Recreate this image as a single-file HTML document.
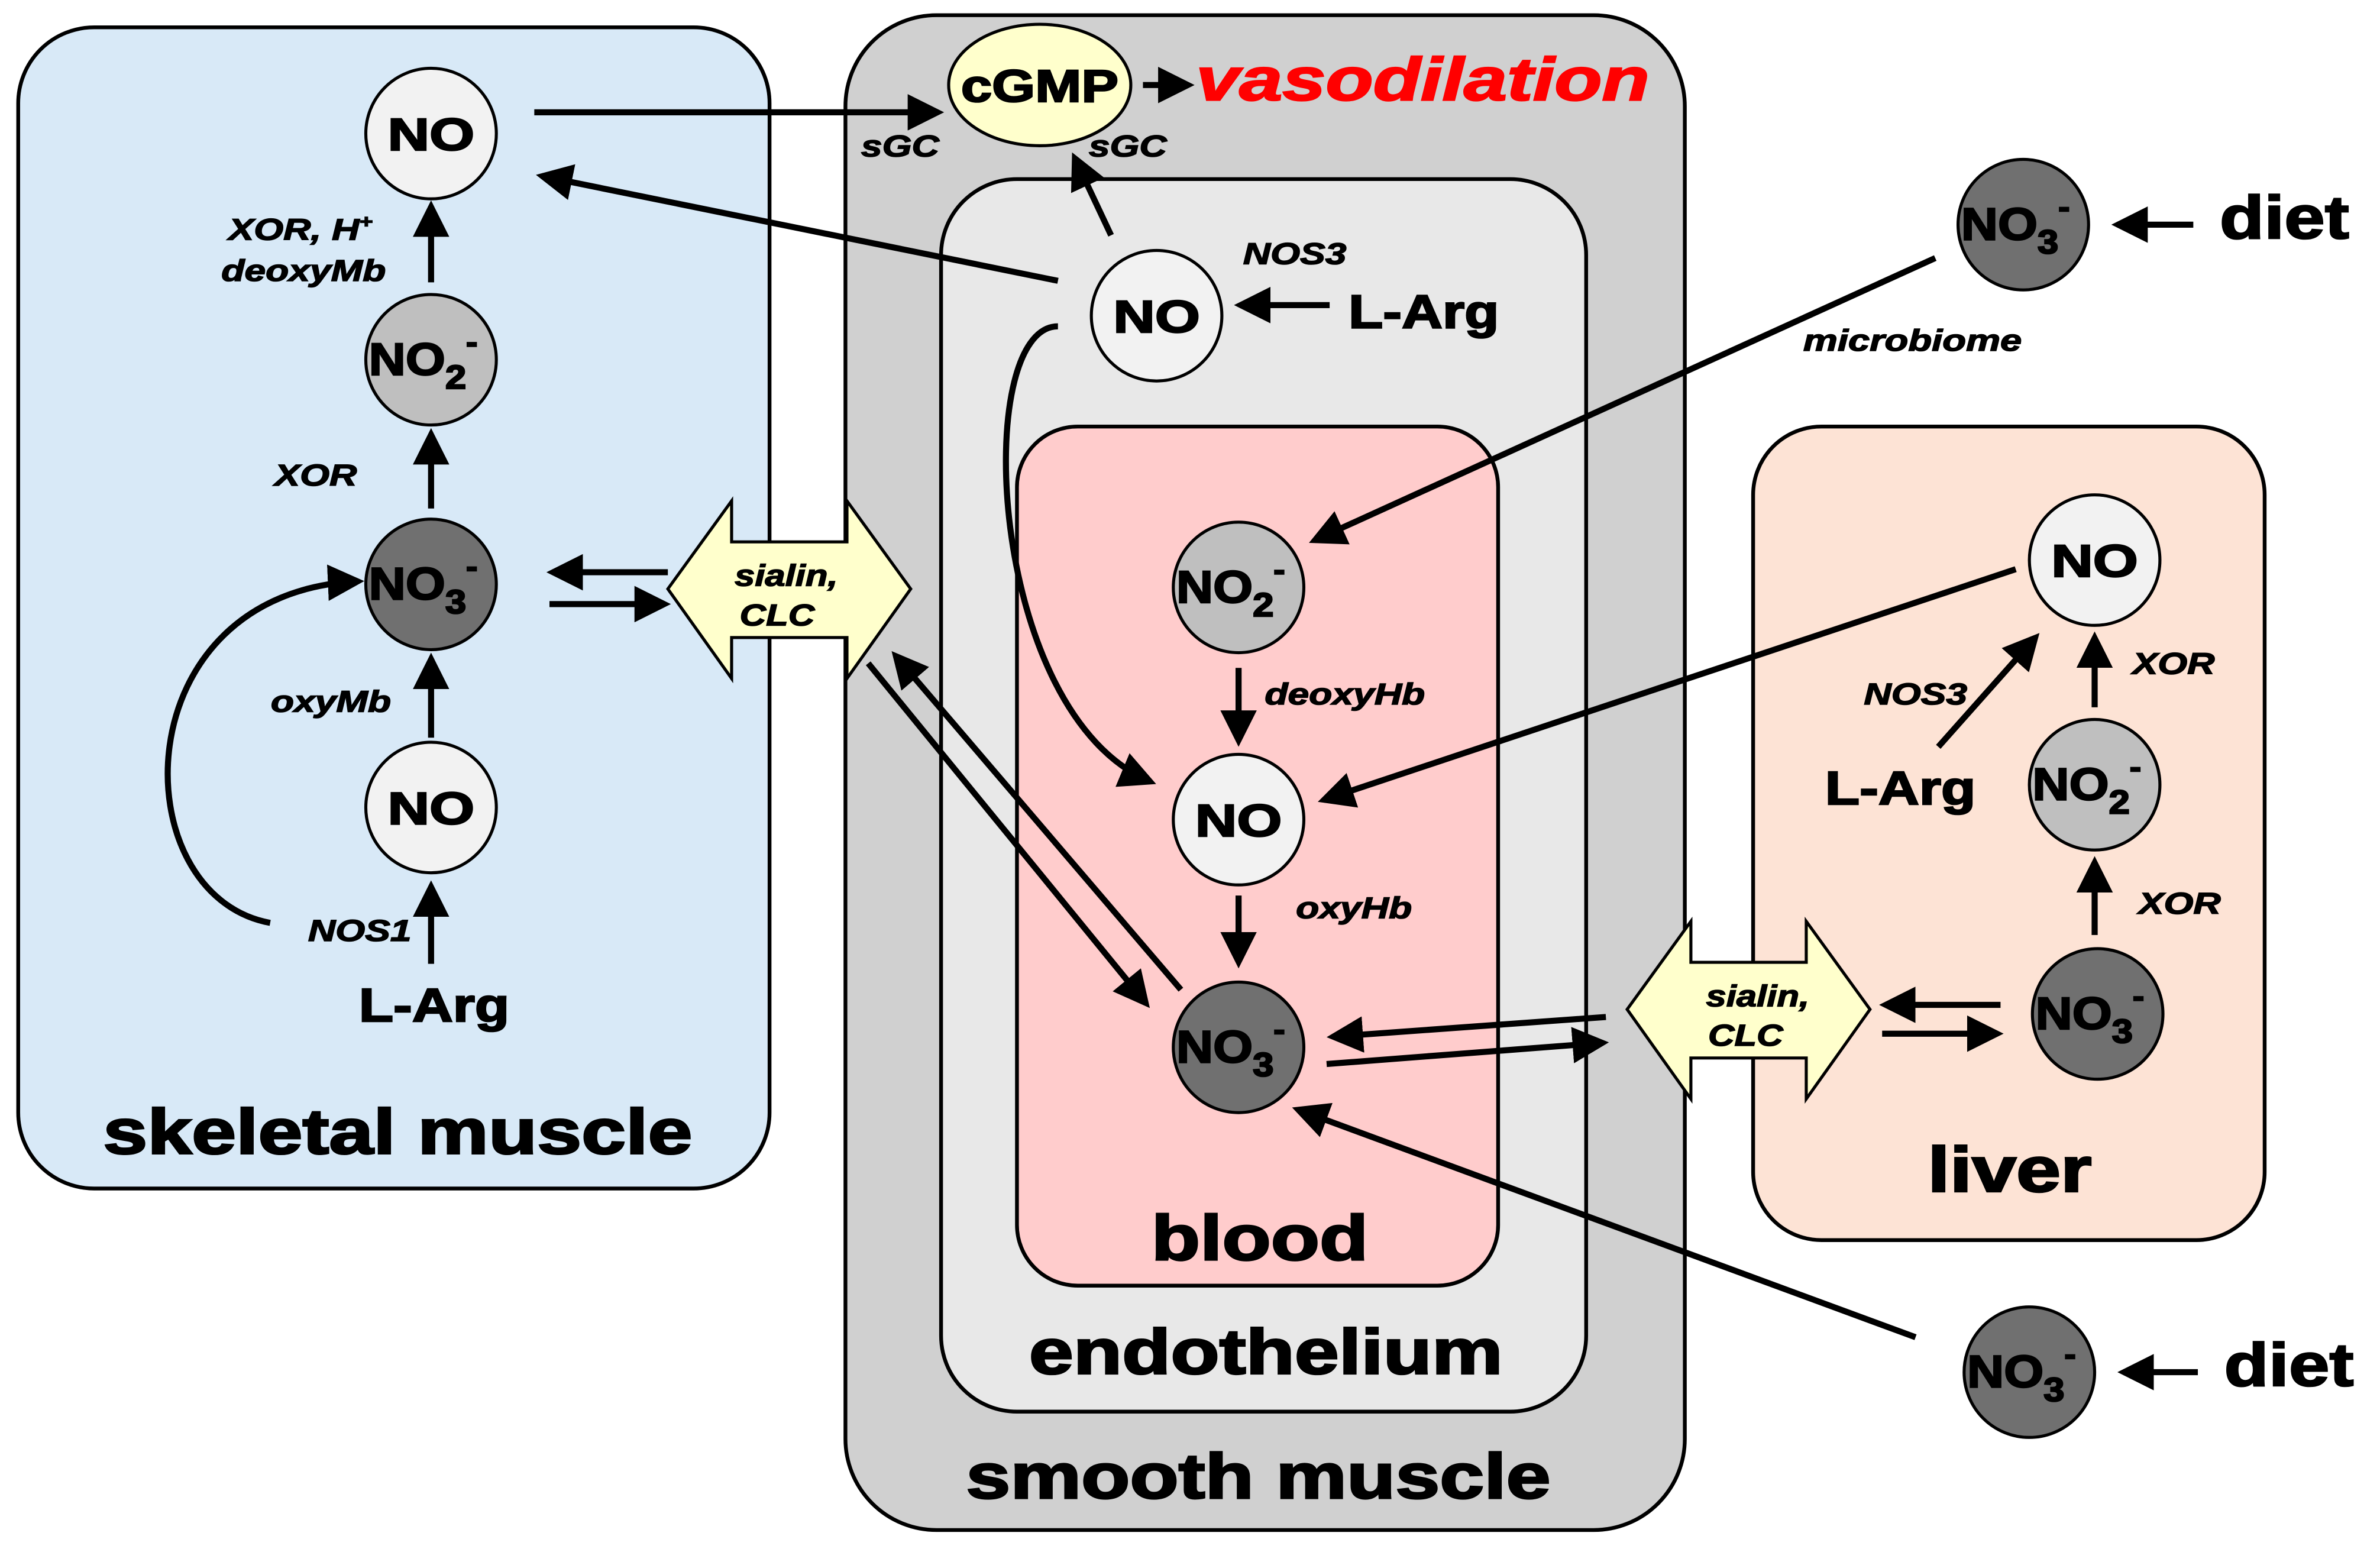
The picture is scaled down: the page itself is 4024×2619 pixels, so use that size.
<!DOCTYPE html>
<html><head><meta charset="utf-8"><style>html,body{margin:0;padding:0;background:#fff}svg{display:block}</style></head>
<body>
<svg width="4024" height="2619" viewBox="0 0 1568 1020.5" preserveAspectRatio="none" xmlns="http://www.w3.org/2000/svg" font-family="Liberation Sans, Arial, sans-serif" font-weight="bold">
<defs>
<marker id="a" markerWidth="6" markerHeight="6" refX="5" refY="3" orient="auto" markerUnits="strokeWidth"><path d="M0,0 L6,3 L0,6 z" fill="#000"/></marker>
</defs>
<g stroke="#000" stroke-width="2.5">
<rect x="12" y="18" width="495" height="765" rx="50" fill="#d8e9f7"/>
<rect x="557" y="10" width="553" height="998" rx="60" fill="#d0d0d0"/>
<rect x="620" y="118" width="425" height="812" rx="50" fill="#e8e8e8"/>
<rect x="670" y="281" width="317" height="566" rx="40" fill="#ffcccc"/>
<rect x="1155" y="281" width="337" height="536" rx="45" fill="#fde3d5"/>
</g>
<g stroke="#000" stroke-width="2" fill="#ffffcc">
<path d="M440,388 L482,330 L482,357 L558,357 L558,330 L600,388 L558,447 L558,420 L482,420 L482,447 Z"/>
<path d="M1072,665 L1114,607 L1114,634 L1190,634 L1190,607 L1232,665 L1190,724 L1190,697 L1114,697 L1114,724 Z"/>
<ellipse cx="685" cy="56" rx="60" ry="40"/>
</g>
<g stroke="#000" stroke-width="2">
<circle cx="284" cy="88" r="43" fill="#f2f2f2"/>
<circle cx="284" cy="237" r="43" fill="#bfbfbf"/>
<circle cx="284" cy="385" r="43" fill="#707070"/>
<circle cx="284" cy="532" r="43" fill="#f2f2f2"/>
<circle cx="762" cy="208" r="43" fill="#f2f2f2"/>
<circle cx="816" cy="387" r="43" fill="#bfbfbf"/>
<circle cx="816" cy="540" r="43" fill="#f2f2f2"/>
<circle cx="816" cy="690" r="43" fill="#707070"/>
<circle cx="1380" cy="369" r="43" fill="#f2f2f2"/>
<circle cx="1380" cy="517" r="43" fill="#bfbfbf"/>
<circle cx="1382" cy="668" r="43" fill="#707070"/>
<circle cx="1333" cy="148" r="43" fill="#707070"/>
<circle cx="1337" cy="904" r="43" fill="#707070"/>
</g>
<g stroke="#000" stroke-width="4" fill="none" marker-end="url(#a)">
<line x1="284" y1="635" x2="284" y2="584"/>
<line x1="284" y1="486" x2="284" y2="434"/>
<line x1="284" y1="335" x2="284" y2="286"/>
<line x1="284" y1="186" x2="284" y2="136"/>
<path d="M178,608 C80,590 80,390 236,383"/>
<line x1="352" y1="74" x2="618" y2="74"/>
<line x1="440" y1="377" x2="364" y2="377"/>
<line x1="362" y1="398" x2="438" y2="398"/>
<line x1="753" y1="56" x2="783" y2="56"/>
<line x1="732" y1="155" x2="708" y2="104"/>
<line x1="697" y1="185" x2="357" y2="116"/>
<line x1="876" y1="201" x2="817" y2="201"/>
<path d="M697,215 C640,215 650,470 758,515"/>
<line x1="816" y1="440" x2="816" y2="488"/>
<line x1="816" y1="590" x2="816" y2="634"/>
<line x1="572" y1="437" x2="755" y2="661"/>
<line x1="778" y1="652" x2="590" y2="432"/>
<line x1="1058" y1="670" x2="878" y2="683"/>
<line x1="874" y1="701" x2="1056" y2="687"/>
<line x1="1318" y1="662" x2="1242" y2="662"/>
<line x1="1240" y1="681" x2="1316" y2="681"/>
<line x1="1380" y1="616" x2="1380" y2="568"/>
<line x1="1380" y1="466" x2="1380" y2="420"/>
<line x1="1277" y1="492" x2="1341" y2="420"/>
<line x1="1328" y1="375" x2="872" y2="527"/>
<line x1="1445" y1="148" x2="1395" y2="148"/>
<line x1="1275" y1="170" x2="866" y2="356"/>
<line x1="1448" y1="904" x2="1399" y2="904"/>
<line x1="1262" y1="881" x2="855" y2="731"/>
</g>
<g font-size="30" text-anchor="middle" fill="#000" stroke="#000" stroke-width="1">
<text transform="translate(284 99) scale(1.27 1)">NO</text>
<text transform="translate(284 543) scale(1.27 1)">NO</text>
<text transform="translate(762 219) scale(1.27 1)">NO</text>
<text transform="translate(816 551) scale(1.27 1)">NO</text>
<text transform="translate(1380 380) scale(1.27 1)">NO</text>
<text transform="translate(685 67) scale(1.22 1)">cGMP</text>
</g>
<g font-size="30" fill="#000" stroke="#000" stroke-width="1">
<text transform="translate(243 247) scale(1.12 1)">NO<tspan font-size="22" dy="9">2</tspan><tspan font-size="20" dy="-24">-</tspan></text>
<text transform="translate(243 395) scale(1.12 1)">NO<tspan font-size="22" dy="9">3</tspan><tspan font-size="20" dy="-24">-</tspan></text>
<text transform="translate(775 397) scale(1.12 1)">NO<tspan font-size="22" dy="9">2</tspan><tspan font-size="20" dy="-24">-</tspan></text>
<text transform="translate(775 700) scale(1.12 1)">NO<tspan font-size="22" dy="9">3</tspan><tspan font-size="20" dy="-24">-</tspan></text>
<text transform="translate(1339 527) scale(1.12 1)">NO<tspan font-size="22" dy="9">2</tspan><tspan font-size="20" dy="-24">-</tspan></text>
<text transform="translate(1341 678) scale(1.12 1)">NO<tspan font-size="22" dy="9">3</tspan><tspan font-size="20" dy="-24">-</tspan></text>
<text transform="translate(1292 158) scale(1.12 1)">NO<tspan font-size="22" dy="9">3</tspan><tspan font-size="20" dy="-24">-</tspan></text>
<text transform="translate(1296 914) scale(1.12 1)">NO<tspan font-size="22" dy="9">3</tspan><tspan font-size="20" dy="-24">-</tspan></text>
</g>
<g font-size="31" text-anchor="middle" fill="#000" stroke="#000" stroke-width="1">
<text transform="translate(286 673) scale(1.2 1)">L-Arg</text>
<text transform="translate(938 216) scale(1.2 1)">L-Arg</text>
<text transform="translate(1252 530) scale(1.2 1)">L-Arg</text>
<text transform="translate(1505 157) scale(1.2 1)" font-size="40">diet</text>
<text transform="translate(1508 913) scale(1.2 1)" font-size="40">diet</text>
</g>
<g font-size="20" font-style="italic" text-anchor="middle" fill="#000" stroke="#000" stroke-width="0.6">
<text transform="translate(237 620) scale(1.25 1)">NOS1</text>
<text transform="translate(218 469) scale(1.25 1)">oxyMb</text>
<text transform="translate(208 320) scale(1.25 1)">XOR</text>
<text transform="translate(198 158) scale(1.25 1)">XOR, H<tspan font-size="12" dy="-8">+</tspan></text>
<text transform="translate(200 185) scale(1.25 1)">deoxyMb</text>
<text transform="translate(593 103) scale(1.25 1)">sGC</text>
<text transform="translate(743 103) scale(1.25 1)">sGC</text>
<text transform="translate(853 174) scale(1.25 1)">NOS3</text>
<text transform="translate(886 464) scale(1.25 1)">deoxyHb</text>
<text transform="translate(892 605) scale(1.25 1)">oxyHb</text>
<text transform="translate(1260 231) scale(1.27 1)">microbiome</text>
<text transform="translate(1262 464) scale(1.25 1)">NOS3</text>
<text transform="translate(1432 444) scale(1.25 1)">XOR</text>
<text transform="translate(1436 602) scale(1.25 1)">XOR</text>
<text transform="translate(518 386) scale(1.2 1)">sialin,</text>
<text transform="translate(512 412) scale(1.2 1)">CLC</text>
<text transform="translate(1158 663) scale(1.2 1)">sialin,</text>
<text transform="translate(1150 689) scale(1.2 1)">CLC</text>
</g>
<text transform="translate(788 66) scale(1.28 1)" font-size="40" font-style="italic" fill="#ff0000" stroke="#ff0000" stroke-width="1">vasodilation</text>
<g font-size="42" text-anchor="middle" fill="#000" stroke="#000" stroke-width="1.2">
<text transform="translate(262 760) scale(1.25 1)">skeletal muscle</text>
<text transform="translate(830 830) scale(1.25 1)">blood</text>
<text transform="translate(834 905) scale(1.25 1)">endothelium</text>
<text transform="translate(829 987) scale(1.25 1)">smooth muscle</text>
<text transform="translate(1324 785) scale(1.25 1)">liver</text>
</g>
</svg>
</body></html>
